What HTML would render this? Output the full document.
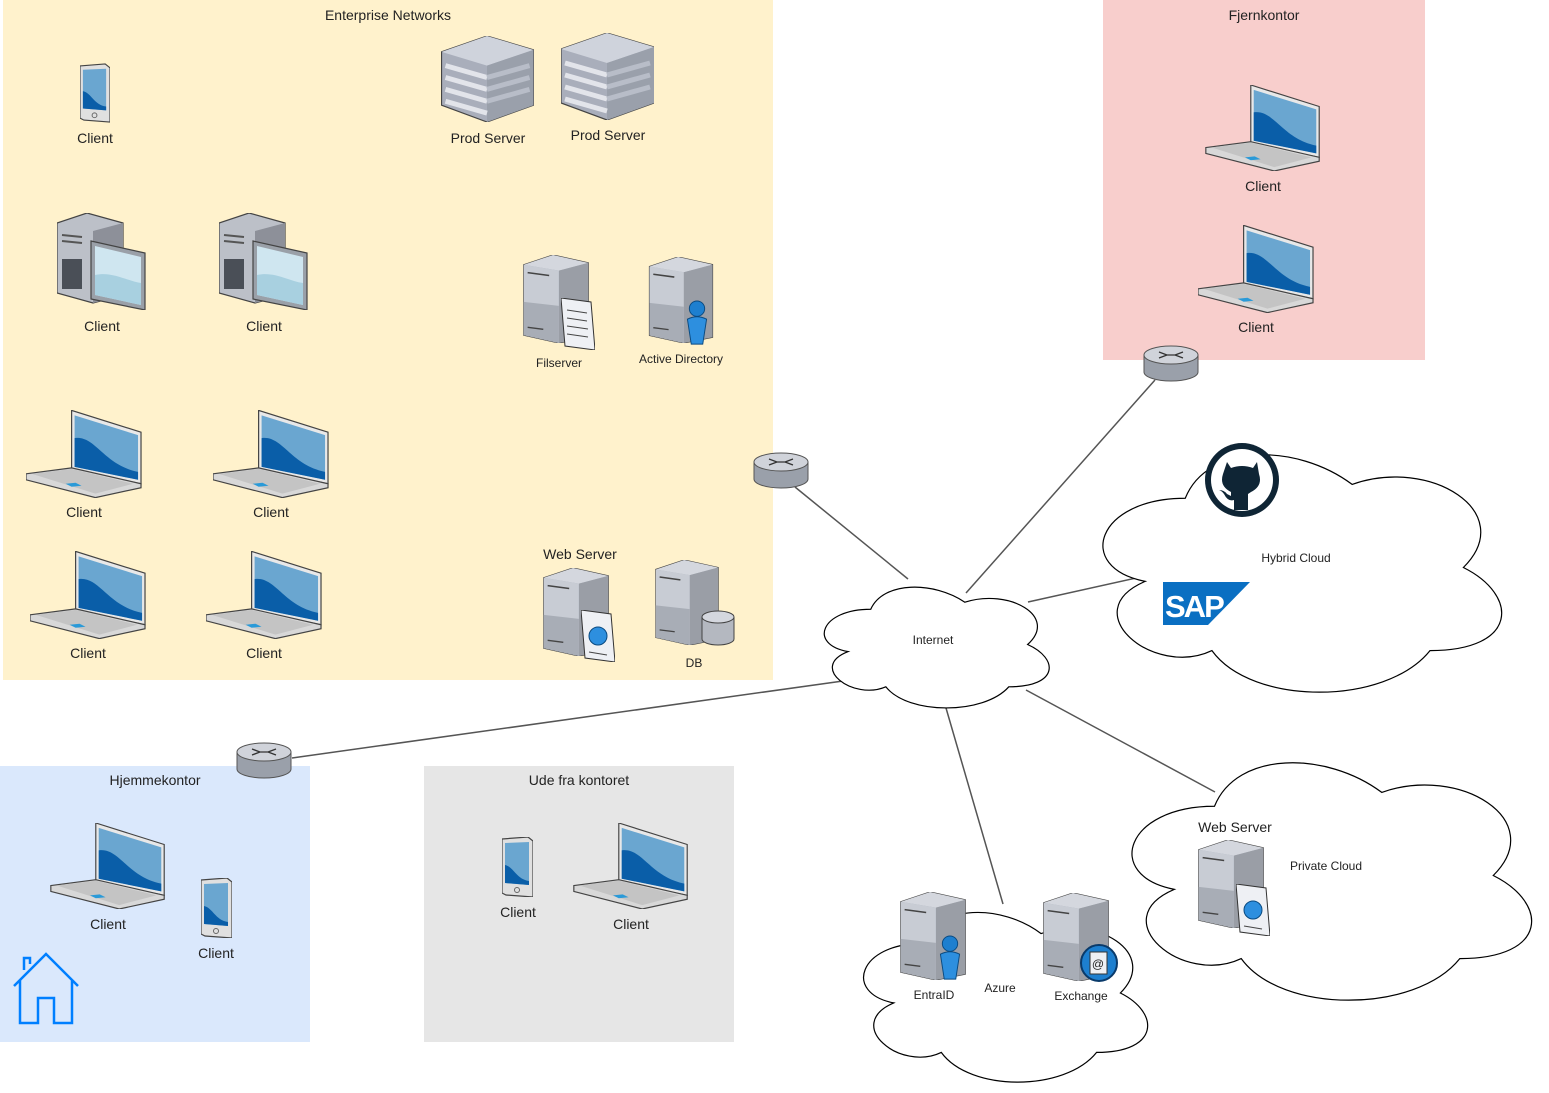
<!DOCTYPE html>
<html><head><meta charset="utf-8"><style>
body{margin:0;background:#fff;}
svg{display:block;font-family:"Liberation Sans",sans-serif;}
text{fill:#222;}
</style></head><body>
<svg width="1549" height="1093" viewBox="0 0 1549 1093" xmlns="http://www.w3.org/2000/svg">
<defs>
<symbol id="laptop" viewBox="0 0 118 88">
 <polygon points="46,0 116,22 116,74 46,60" fill="#e8e8e8" stroke="#444" stroke-width="1.2"/>
 <polygon points="49,5 113,25 113,70 49,57" fill="#6aa6d0"/>
 <path d="M49,28 C70,25 78,55 113,62 L113,70 49,57Z" fill="#0a5ea8"/>
 <polygon points="0,64 46,58 116,74 116,78 70,88 0,70" fill="#d8d8d8" stroke="#444" stroke-width="1.2"/>
 <polygon points="6,64 46,59 108,74 70,84" fill="#c4c4c4"/>
 <polygon points="40,74 50,73 56,76 46,77" fill="#2a9ad8"/>
</symbol>
<symbol id="pc" viewBox="0 0 90 97">
 <polygon points="0,10 30,0 66,10 66,82 36,90 0,80" fill="#bcc0c8" stroke="#444" stroke-width="1.2"/>
 <polygon points="36,18 66,10 66,82 36,90" fill="#8d9099"/>
 <rect x="5" y="46" width="20" height="30" fill="#4a4f57"/>
 <line x1="5" y1="22" x2="25" y2="24" stroke="#555" stroke-width="2"/>
 <line x1="5" y1="28" x2="25" y2="30" stroke="#555" stroke-width="2"/>
 <polygon points="34,28 88,40 88,97 34,86" fill="#9aa0a8" stroke="#444" stroke-width="1.2"/>
 <polygon points="38,33 84,44 84,92 38,82" fill="#cfe6f0"/>
 <path d="M38,62 C55,58 70,68 84,70 L84,92 38,82Z" fill="#a8d0e0"/>
</symbol>
<symbol id="server" viewBox="0 0 66 90">
 <polygon points="0,10 30,0 66,8 66,84 36,90 0,82" fill="#aab0ba" stroke="#444" stroke-width="1.2"/>
 <polygon points="0,10 30,0 66,8 36,16" fill="#d4d7de"/>
 <polygon points="0,10 36,16 36,90 0,82" fill="#c8ccd4"/>
 <polygon points="36,16 66,8 66,84 36,90" fill="#9a9ea6"/>
 <polygon points="0,48 36,52 36,90 0,82" fill="#a8adb6"/>
 <line x1="4" y1="18" x2="26" y2="21" stroke="#444" stroke-width="1.6"/>
 <line x1="4" y1="74" x2="20" y2="76" stroke="#444" stroke-width="1.4"/>
</symbol>
<symbol id="prod" viewBox="0 0 93 87">
 <polygon points="0,16 46,0 93,14 93,70 46,87 0,70" fill="#a9aebb" stroke="#444" stroke-width="1.2"/>
 <polygon points="0,16 46,0 93,14 46,30" fill="#cfd3dc"/>
 <polygon points="46,30 93,14 93,70 46,87" fill="#9aa0ab"/>
 <g stroke="#e2e4ea" stroke-width="5">
 <line x1="4" y1="30" x2="46" y2="42"/><line x1="4" y1="42" x2="46" y2="54"/><line x1="4" y1="54" x2="46" y2="66"/><line x1="4" y1="66" x2="46" y2="78"/>
 </g>
 <g stroke="#b8bdc8" stroke-width="5">
 <line x1="46" y1="42" x2="89" y2="30"/><line x1="46" y1="54" x2="89" y2="42"/><line x1="46" y1="66" x2="89" y2="54"/>
 </g>
</symbol>
<symbol id="tablet" viewBox="0 0 31 60">
 <polygon points="0,2 26,0 31,4 31,60 4,58 0,56" fill="#e0e0e0" stroke="#444" stroke-width="1.2"/>
 <polygon points="3,6 27,5 27,48 3,46" fill="#6aa6d0"/>
 <path d="M3,28 C12,30 14,42 27,44 L27,48 3,46Z" fill="#0a5ea8"/>
 <circle cx="15" cy="53" r="2.5" fill="none" stroke="#666"/>
</symbol>
<symbol id="router" viewBox="0 0 56 37">
 <path d="M1,10 L1,27 A27,9 0 0 0 55,27 L55,10Z" fill="#9aa0aa" stroke="#555"/>
 <ellipse cx="28" cy="10" rx="27" ry="9" fill="#d0d3da" stroke="#555"/>
 <path d="M16,7 L24,10 L16,13 M40,7 L32,10 L40,13 M22,10 H34" stroke="#333" fill="none" stroke-width="1.3"/>
</symbol>
<symbol id="person" viewBox="0 0 26 48">
 <circle cx="13" cy="9" r="8" fill="#1d7fcf" stroke="#0a4a80"/>
 <path d="M3,20 Q13,15 23,20 L19,46 H7Z" fill="#2d8fdf" stroke="#0a4a80"/>
</symbol>
<symbol id="doc" viewBox="0 0 34 52">
 <polygon points="0,0 30,4 34,52 4,48" fill="#eef0f4" stroke="#333"/>
 <g stroke="#444"><line x1="6" y1="12" x2="26" y2="15"/><line x1="6" y1="20" x2="26" y2="23"/><line x1="6" y1="28" x2="27" y2="31"/><line x1="6" y1="36" x2="27" y2="39"/></g>
</symbol>
<symbol id="webdoc" viewBox="0 0 34 52">
 <polygon points="0,0 30,4 34,52 4,48" fill="#eef0f4" stroke="#333"/>
 <circle cx="17" cy="26" r="9" fill="#2d8fdf" stroke="#0a4a80"/>
 <line x1="8" y1="42" x2="26" y2="45" stroke="#444"/>
</symbol>
</defs>

<rect x="3" y="0" width="770" height="680" fill="#fff2cc"/>
<rect x="1103" y="0" width="322" height="360" fill="#f8cecc"/>
<rect x="0" y="766" width="310" height="276" fill="#dae8fc"/>
<rect x="424" y="766" width="310" height="276" fill="#e6e6e6"/>

<g stroke="#555" stroke-width="1.5">
<line x1="795" y1="487" x2="908" y2="579"/>
<line x1="1155" y1="380" x2="966" y2="593"/>
<line x1="1028" y1="602" x2="1145" y2="576"/>
<line x1="843" y1="681" x2="292" y2="758"/>
<line x1="946" y1="708" x2="1003" y2="904"/>
<line x1="1026" y1="690" x2="1215" y2="792"/>
</g>

<g fill="#fff" stroke="#000" stroke-width="1.2">
<g transform="translate(808,574) scale(251,141)"><path vector-effect="non-scaling-stroke" d="M.25,.25C.05,.25 0,.5 .16,.55C0,.66 .18,.9 .31,.8C.4,1 .7,1 .8,.8C1,.8 1,.6 .875,.5C1,.3 .8,.1 .625,.2C.5,.05 .3,.05 .25,.25Z"/></g>
<g transform="translate(1074,429) scale(445,277)"><path vector-effect="non-scaling-stroke" d="M.25,.25C.05,.25 0,.5 .16,.55C0,.66 .18,.9 .31,.8C.4,1 .7,1 .8,.8C1,.8 1,.6 .875,.5C1,.3 .8,.1 .625,.2C.5,.05 .3,.05 .25,.25Z"/></g>
<g transform="translate(1103,737) scale(446,277)"><path vector-effect="non-scaling-stroke" d="M.25,.25C.05,.25 0,.5 .16,.55C0,.66 .18,.9 .31,.8C.4,1 .7,1 .8,.8C1,.8 1,.6 .875,.5C1,.3 .8,.1 .625,.2C.5,.05 .3,.05 .25,.25Z"/></g>
<g transform="translate(843,894) scale(317,198)"><path vector-effect="non-scaling-stroke" d="M.25,.25C.05,.25 0,.5 .16,.55C0,.66 .18,.9 .31,.8C.4,1 .7,1 .8,.8C1,.8 1,.6 .875,.5C1,.3 .8,.1 .625,.2C.5,.05 .3,.05 .25,.25Z"/></g>
</g>

<use href="#tablet" x="80" y="63" width="30" height="60"/>
<use href="#prod" x="441" y="36" width="93" height="86"/>
<use href="#prod" x="561" y="33" width="93" height="87"/>
<use href="#pc" x="57" y="213" width="90" height="97"/>
<use href="#pc" x="219" y="213" width="90" height="97"/>
<use href="#server" x="523" y="255" width="66" height="88"/>
<use href="#doc" x="561" y="298" width="34" height="52"/>
<use href="#server" x="648" y="257" width="66" height="86"/>
<use href="#person" x="684" y="300" width="26" height="46"/>
<use href="#laptop" x="26" y="410" width="117" height="88"/>
<use href="#laptop" x="213" y="410" width="117" height="88"/>
<use href="#laptop" x="30" y="551" width="117" height="88"/>
<use href="#laptop" x="206" y="551" width="117" height="88"/>
<use href="#server" x="543" y="568" width="66" height="88"/>
<use href="#webdoc" x="581" y="610" width="34" height="52"/>
<use href="#server" x="654" y="560" width="66" height="85"/>
<g><path d="M702,617 v22 a16,6 0 0 0 32,0 v-22" fill="#b4b8c0" stroke="#444"/><ellipse cx="718" cy="617" rx="16" ry="6" fill="#d4d7de" stroke="#444"/></g>
<use href="#laptop" x="1205" y="85" width="117" height="86"/>
<use href="#laptop" x="1198" y="225" width="117" height="88"/>
<use href="#router" x="753" y="452" width="56" height="37"/>
<use href="#router" x="1143" y="345" width="56" height="37"/>
<use href="#router" x="236" y="742" width="56" height="37"/>
<use href="#laptop" x="50" y="823" width="117" height="86"/>
<use href="#tablet" x="201" y="878" width="31" height="60"/>
<use href="#tablet" x="502" y="837" width="31" height="60"/>
<use href="#laptop" x="573" y="823" width="117" height="86"/>
<use href="#server" x="900" y="892" width="66" height="88"/>
<use href="#person" x="937" y="935" width="26" height="46"/>
<use href="#server" x="1043" y="893" width="66" height="88"/>
<circle cx="1099" cy="963" r="18" fill="#1d7fcf" stroke="#0a3a6a" stroke-width="2"/>
<rect x="1090" y="952" width="17" height="22" fill="#eef0f4" stroke="#333"/>
<text x="1098" y="968" font-size="12" text-anchor="middle">@</text>
<use href="#server" x="1198" y="840" width="66" height="88"/>
<use href="#webdoc" x="1236" y="884" width="34" height="52"/>

<circle cx="1242" cy="480" r="37" fill="#0f2535"/>
<circle cx="1242" cy="480" r="31" fill="#fff"/>
<path d="M1227,462 l4,6 q11,-4 22,0 l4,-6 l2,12 q4,12 -8,18 l-3,2 v16 h-14 v-10 q-6,2 -10,-6 q-2,-3 -5,-4 q5,0 8,4 l4,2 v-4 q-12,-6 -8,-18Z" fill="#0f2535"/>
<polygon points="1163,582 1250,582 1208,625 1163,625" fill="#0a6fc2"/>
<text x="1165" y="617" font-size="31" font-weight="bold" fill="#fff" style="fill:#fff;letter-spacing:-2px">SAP</text>
<path d="M14,986 L46,954 L78,986 M20,980 V1023 H38 V998 H54 V1023 H72 V980 M24,970 V958 H30 V964" fill="none" stroke="#007fff" stroke-width="2.5"/>

<g font-size="14" text-anchor="middle">
<text x="388" y="20">Enterprise Networks</text>
<text x="1264" y="20">Fjernkontor</text>
<text x="95" y="143">Client</text>
<text x="488" y="143">Prod Server</text>
<text x="608" y="140">Prod Server</text>
<text x="102" y="331">Client</text>
<text x="264" y="331">Client</text>
<text x="84" y="517">Client</text>
<text x="271" y="517">Client</text>
<text x="88" y="658">Client</text>
<text x="264" y="658">Client</text>
<text x="580" y="559">Web Server</text>
<text x="1263" y="191">Client</text>
<text x="1256" y="332">Client</text>
<text x="155" y="785">Hjemmekontor</text>
<text x="579" y="785">Ude fra kontoret</text>
<text x="108" y="929">Client</text>
<text x="216" y="958">Client</text>
<text x="518" y="917">Client</text>
<text x="631" y="929">Client</text>
<text x="1235" y="832">Web Server</text>
</g>
<g font-size="12" text-anchor="middle">
<text x="559" y="367">Filserver</text>
<text x="681" y="363">Active Directory</text>
<text x="694" y="667">DB</text>
<text x="933" y="644">Internet</text>
<text x="1296" y="562">Hybrid Cloud</text>
<text x="1326" y="870">Private Cloud</text>
<text x="934" y="999">EntraID</text>
<text x="1000" y="992">Azure</text>
<text x="1081" y="1000">Exchange</text>
</g>
</svg>
</body></html>
